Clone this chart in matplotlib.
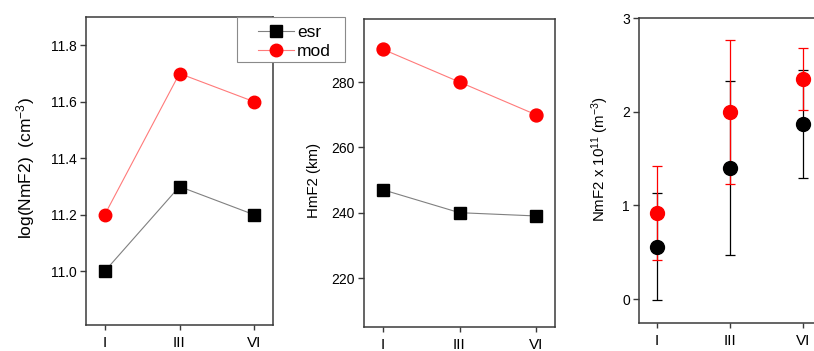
import numpy as np
import matplotlib.pyplot as plt
from matplotlib.patches import Rectangle

plt.rcParams['font.family'] = ['Liberation Sans', 'DejaVu Sans']
plt.rcParams['mathtext.fontset'] = 'custom'
plt.rcParams['mathtext.rm'] = 'Liberation Sans'
plt.rcParams['mathtext.it'] = 'Liberation Sans:italic'

# donnees
cats = ['I', 'III', 'VI']
log_esr = [11.0, 11.3, 11.2]
log_mod = [11.2, 11.7, 11.6]
hm_esr = [247, 240, 239]
hm_mod = [290, 280, 270]
nm_esr = [0.56, 1.40, 1.87]
nm_esr_err = [0.57, 0.93, 0.58]
nm_mod = [0.92, 2.00, 2.35]
nm_mod_err = [0.50, 0.77, 0.33]

x = np.arange(len(cats))
W, H = 814, 351
fig = plt.figure(figsize=(W / 100, H / 100), dpi=100)

def px(l, t, r, b):
    return [l / W, 1 - b / H, (r - l) / W, (b - t) / H]

ax1 = fig.add_axes(px(86, 17, 273, 325))
ax2 = fig.add_axes(px(364, 19, 555, 327))
ax3 = fig.add_axes(px(639, 18, 821, 323))

edge = '#3a3a3a'
grey_line = '#808080'
red_line = '#ff7a7a'
for ax in (ax1, ax2, ax3):
    for s in ax.spines.values():
        s.set_color(edge)
        s.set_linewidth(1.1)
    ax.tick_params(direction='out', length=4, width=1, color=edge,
                   labelsize=10, pad=2.5, top=False, right=False)
    ax.set_xticks(x)
    ax.set_xticklabels(cats, fontsize=11)
    ax.tick_params(axis='x', pad=4.5, length=3.5)
    ax.set_xlim(-0.25, 2.25)

# panneau 1
l1, = ax1.plot(x, log_esr, color=grey_line, lw=0.8, marker='s', ms=8.2,
               mfc='black', mec='black', label='esr')
l2, = ax1.plot(x, log_mod, color=red_line, lw=0.8, marker='o', ms=9,
               mfc='red', mec='red', label='mod')
ax1.set_ylim(10.81, 11.9)
ax1.set_yticks([11.0, 11.2, 11.4, 11.6, 11.8])
ax1.set_yticklabels(['11.0', '11.2', '11.4', '11.6', '11.8'])
ax1.set_ylabel('log(NmF2)  (cm$^{-3}$)', fontsize=12.5)
ax1.yaxis.set_label_coords(-0.262, 0.511)

# panneau 2
ax2.plot(x, hm_esr, color=grey_line, lw=0.8, marker='s', ms=8.2,
         mfc='black', mec='black')
ax2.plot(x, hm_mod, color=red_line, lw=0.8, marker='o', ms=9.3,
         mfc='red', mec='red')
ax2.set_ylim(205, 299.3)
ax2.set_yticks([220, 240, 260, 280])
ax2.set_ylabel('HmF2 (km)', fontsize=10.8)
ax2.yaxis.set_label_coords(-0.225, 0.476)

# panneau 3
ax3.errorbar(x, nm_esr, yerr=nm_esr_err, fmt='o', color='black', ms=10,
             ecolor='black', elinewidth=0.9, capsize=3.3, capthick=0.9)
ax3.errorbar(x, nm_mod, yerr=nm_mod_err, fmt='o', color='red', ms=10,
             ecolor='red', elinewidth=0.9, capsize=3.3, capthick=0.9)
ax3.set_ylim(-0.256, 3.0)
ax3.set_yticks([0, 1, 2, 3])
ax3.set_ylabel('NmF2 x 10$^{11}$ (m$^{-3}$)', fontsize=10.8)
ax3.yaxis.set_label_coords(-0.155, 0.539)

# legende : cadre dessine a part pour garder la marge gauche
fig.patches.append(Rectangle((237 / W, 1 - 62 / H), 108 / W, 45 / H,
                             transform=fig.transFigure, facecolor='white',
                             edgecolor='#8a8a8a', linewidth=0.8, zorder=5))
leg = fig.legend(handles=[l1, l2], loc='upper left',
                 bbox_to_anchor=(258 / W, 1 - 25 / H), fontsize=12.5,
                 frameon=False, borderpad=0, handlelength=2.1,
                 handletextpad=0.15, labelspacing=0.22, borderaxespad=0)
leg.set_zorder(6)

fig.savefig('out.png', dpi=100)
